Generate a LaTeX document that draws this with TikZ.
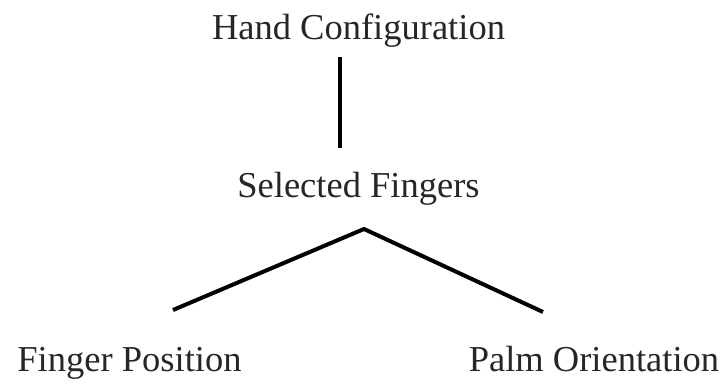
\documentclass[tikz,border=0pt]{standalone}
\usepackage{fontspec}
\setmainfont{Liberation Serif}
\begin{document}
\begin{tikzpicture}[x=1pt,y=1pt,
  lbl/.style={inner sep=0pt, anchor=base, font=\fontsize{36.5}{40}\selectfont, text=black!85},
  conn/.style={line width=4pt, black}]
\useasboundingbox (0,0) rectangle (728,386);
\node[lbl] (hc) at (358.5,346) {Hand Configuration};
\node[lbl] (sf) at (358.5,189) {Selected Fingers};
\node[lbl] (fp) at (129.5,15) {Finger Position};
\node[lbl] (po) at (594,15) {Palm Orientation};
\coordinate (hcb) at (340,329);
\coordinate (sft) at (340,238);
\coordinate (sfb) at (364,157);
\coordinate (fpt) at (173,76);
\coordinate (pot) at (543,74);
\draw[conn] (hcb) -- (sft);
\draw[conn] (fpt) -- (sfb) -- (pot);
\end{tikzpicture}
\end{document}
